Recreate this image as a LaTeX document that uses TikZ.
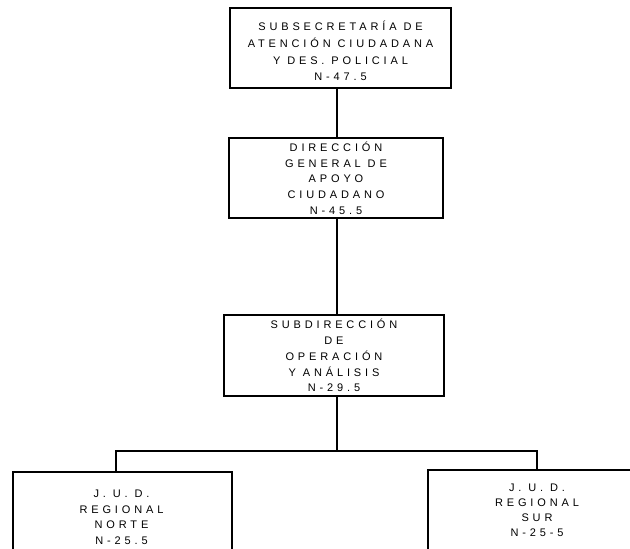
\documentclass[tikz,border=0pt]{standalone}
\usepackage{fontspec}
\setmainfont{Liberation Sans}
\newfontfamily\spaced[LetterSpace=35]{Liberation Sans}
\begin{document}
\begin{tikzpicture}[x=1pt,y=-1pt,
  orgbox/.style={draw=black, line width=1.6pt, inner sep=0pt, align=center, fill=white},
  orgtext/.style={inner sep=0pt, align=center, font={\spaced\fontsize{11}{15.5}\selectfont}},
  link/.style={draw=black, line width=1.6pt}]
\useasboundingbox (0,0) rectangle (630,549);
\clip (0,0) rectangle (630,549);
\coordinate (spine) at (337,0);
\node[orgbox, minimum width=221pt, minimum height=80pt] (b1) at (340.5,48) {};
\node[orgtext, font={\spaced\fontsize{11}{16.8}\selectfont}] (t1) at (340.5,51)
  {SUBSECRETARÍA DE\\ATENCIÓN CIUDADANA\\Y DES. POLICIAL\\N-47.5};
\node[orgbox, minimum width=214pt, minimum height=80pt, font={\spaced\fontsize{11}{15.7}\selectfont}] (b2) at (336,178)
  {DIRECCIÓN\\GENERAL DE\\APOYO\\CIUDADANO\\N-45.5};
\node[orgbox, minimum width=220pt, minimum height=81pt, font={\spaced\fontsize{11}{15.8}\selectfont}] (b3) at (334,355.5)
  {SUBDIRECCIÓN\\DE\\OPERACIÓN\\Y ANÁLISIS\\N-29.5};
\node[orgbox, minimum width=219pt, minimum height=150pt, anchor=north west] (b4) at (12,471) {};
\node[orgbox, minimum width=300pt, minimum height=150pt, anchor=north west] (b5) at (427,469) {};
\node[orgtext, anchor=north] (t4) at (121.5,490) {J. U. D.\\REGIONAL\\NORTE\\N-25.5};
\node[orgtext, anchor=north, font={\spaced\fontsize{11}{15}\selectfont}] (t5) at (537,484) {J. U. D.\\REGIONAL\\SUR\\N-25-5};
\coordinate (bus) at (0,451);
\coordinate (dropL) at (116,0);
\coordinate (dropR) at (537,0);
\draw[link] (b1.south -| spine) -- (b2.north -| spine);
\draw[link] (b2.south -| spine) -- (b3.north -| spine);
\draw[link] (b3.south -| spine) -- (bus -| spine);
\draw[link] (b4.north -| dropL) -- (bus -| dropL) -- (bus -| dropR) -- (b5.north -| dropR);
\end{tikzpicture}
\end{document}
